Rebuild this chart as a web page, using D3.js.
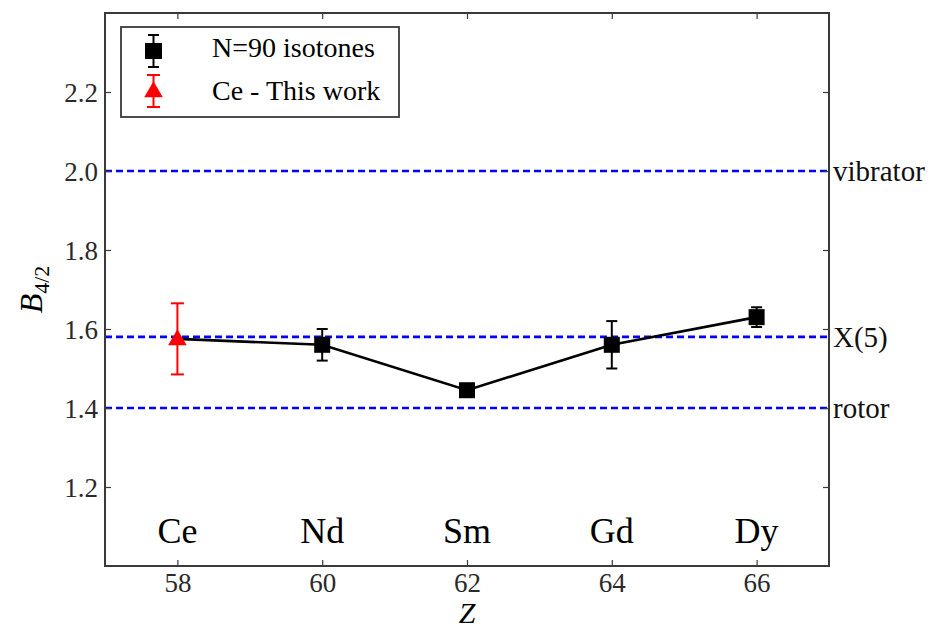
<!DOCTYPE html>
<html>
<head>
<meta charset="utf-8">
<script src="https://d3js.org/d3.v7.min.js"></script>
<style>
  html, body { margin: 0; padding: 0; background: #fff; }
  svg { display: block; }
  text { font-family: "Liberation Serif", "DejaVu Serif", serif; }
</style>
</head>
<body>
<svg id="chart" width="938" height="630"></svg>
<script>
// N=90 isotones: proton number, element, B(4/2) ratio and its uncertainty
const zValues   = [58, 60, 62, 64, 66];
const elements  = ["Ce", "Nd", "Sm", "Gd", "Dy"];
const b42       = [1.575, 1.56, 1.445, 1.56, 1.63];
const b42Err    = [0.0, 0.04, 0.01, 0.06, 0.025];

// Ce measurement (this work)
const ceZ   = [58];
const ceB   = [1.575];
const ceErr = [0.09];

// Reference limits drawn as horizontal dashed lines
const limitNames  = ["vibrator", "X(5)", "rotor"];
const limitValues = [2.0, 1.58, 1.40];

const xTicks = [58, 60, 62, 64, 66];
const yTicks = [1.2, 1.4, 1.6, 1.8, 2.0, 2.2];

const svg = d3.select("#chart");
const L = 105, R = 829, T = 13, B = 566;

const x = d3.scaleLinear().domain([57, 67]).range([L, R]);
const y = d3.scaleLinear().domain([1.0, 2.4]).range([B, T]);

const axisColor = "#3a3a3a";
const tickLen = 6;

// reference lines
const limits = limitNames.map((n, i) => ({ name: n, v: limitValues[i] }));
svg.selectAll("line.limit").data(limits).enter().append("line")
  .attr("class", "limit")
  .attr("x1", L).attr("x2", R)
  .attr("y1", d => y(d.v)).attr("y2", d => y(d.v))
  .attr("stroke", "#0000ff").attr("stroke-width", 2.6)
  .attr("stroke-dasharray", "7,4");
svg.selectAll("text.limit").data(limits).enter().append("text")
  .attr("class", "limit")
  .attr("x", R + 4).attr("y", d => y(d.v) + 10)
  .attr("font-size", 29).attr("fill", "#111")
  .text(d => d.name);

// connecting line through the isotone series
const pts = zValues.map((z, i) => ({ z, el: elements[i], v: b42[i], e: b42Err[i] }));
const line = d3.line().x(d => x(d.z)).y(d => y(d.v));
svg.append("path").datum(pts)
  .attr("d", line).attr("fill", "none")
  .attr("stroke", "#000").attr("stroke-width", 2.6);

// error bars
function errorBars(sel, data, color, cap) {
  const g = sel.selectAll(null).data(data.filter(d => d.e > 0)).enter().append("g");
  g.append("line")
    .attr("x1", d => x(d.z)).attr("x2", d => x(d.z))
    .attr("y1", d => y(d.v + d.e)).attr("y2", d => y(d.v - d.e))
    .attr("stroke", color).attr("stroke-width", 2);
  [1, -1].forEach(s => {
    g.append("line")
      .attr("x1", d => x(d.z) - cap).attr("x2", d => x(d.z) + cap)
      .attr("y1", d => y(d.v + s * d.e)).attr("y2", d => y(d.v + s * d.e))
      .attr("stroke", color).attr("stroke-width", 2);
  });
}
errorBars(svg, pts.slice(1), "#000", 5.5);

// square markers (the Ce point sits beneath the red triangle)
const sq = 16;
svg.selectAll("rect.pt").data(pts.slice(1)).enter().append("rect")
  .attr("class", "pt")
  .attr("x", d => x(d.z) - sq / 2).attr("y", d => y(d.v) - sq / 2)
  .attr("width", sq).attr("height", sq).attr("fill", "#000");

// Ce measurement: red triangle with error bar
const ce = ceZ.map((z, i) => ({ z, v: ceB[i], e: ceErr[i] }));
errorBars(svg, ce, "#ff0000", 6.5);
const tri = d3.symbol().type(d3.symbolTriangle).size(150);
svg.selectAll("path.ce").data(ce).enter().append("path")
  .attr("class", "ce")
  .attr("d", tri)
  .attr("transform", d => `translate(${x(d.z)},${y(d.v) + 1})`)
  .attr("fill", "#ff0000");

// element names inside the plot
svg.selectAll("text.el").data(pts).enter().append("text")
  .attr("class", "el")
  .attr("x", d => x(d.z)).attr("y", 543)
  .attr("text-anchor", "middle").attr("font-size", 36).attr("fill", "#000")
  .text(d => d.el);

// axes with inward ticks on all four sides
const fmtY = d3.format(".1f");
const axB = svg.append("g").attr("transform", `translate(0,${B})`)
  .call(d3.axisBottom(x).tickValues(xTicks).tickSize(-tickLen).tickPadding(6).tickFormat(d3.format("d")));
const axT = svg.append("g").attr("transform", `translate(0,${T})`)
  .call(d3.axisTop(x).tickValues(xTicks).tickSize(-tickLen).tickFormat(""));
const axL = svg.append("g").attr("transform", `translate(${L},0)`)
  .call(d3.axisLeft(y).tickValues(yTicks).tickSize(-tickLen).tickPadding(7).tickFormat(fmtY));
const axR = svg.append("g").attr("transform", `translate(${R},0)`)
  .call(d3.axisRight(y).tickValues(yTicks).tickSize(-tickLen).tickFormat(""));
[axB, axT, axL, axR].forEach(a => {
  a.attr("font-family", null).attr("font-size", null);
  a.select(".domain").remove();
  a.selectAll(".tick line").attr("stroke", axisColor).attr("stroke-width", 1.2);
  a.selectAll(".tick text")
    .style("font-family", "'Liberation Serif', serif")
    .style("font-size", "27px").attr("fill", "#2a2a2a");
});
axB.selectAll(".tick text").attr("dy", "0.75em");
axL.selectAll(".tick text").attr("dy", "0.35em");

svg.append("rect")
  .attr("x", L).attr("y", T).attr("width", R - L).attr("height", B - T)
  .attr("fill", "none").attr("stroke", axisColor).attr("stroke-width", 2);

// axis titles
svg.append("text")
  .attr("x", (L + R) / 2).attr("y", 623)
  .attr("text-anchor", "middle").attr("font-size", 30).attr("font-style", "italic")
  .text("Z");
const yl = svg.append("text")
  .attr("transform", `translate(42,${(T + B) / 2}) rotate(-90)`)
  .attr("text-anchor", "middle").attr("font-size", 32);
yl.append("tspan").attr("font-style", "italic").text("B");
yl.append("tspan").attr("font-size", 22).attr("dy", 7).text("4/2");

// legend
const lg = svg.append("g");
lg.append("rect").attr("x", 121).attr("y", 27).attr("width", 278).attr("height", 90)
  .attr("fill", "#fff").attr("stroke", axisColor).attr("stroke-width", 1.8);
const lx = 153.5;
// square entry
lg.append("line").attr("x1", lx).attr("x2", lx).attr("y1", 35).attr("y2", 67).attr("stroke", "#000").attr("stroke-width", 2);
[35, 67].forEach(yy => lg.append("line").attr("x1", lx - 5.5).attr("x2", lx + 5.5).attr("y1", yy).attr("y2", yy).attr("stroke", "#000").attr("stroke-width", 2));
lg.append("rect").attr("x", lx - 8.5).attr("y", 43).attr("width", 17).attr("height", 16).attr("fill", "#000");
lg.append("text").attr("x", 212).attr("y", 57).attr("font-size", 28).text("N=90 isotones");
// triangle entry
lg.append("line").attr("x1", lx).attr("x2", lx).attr("y1", 75).attr("y2", 107).attr("stroke", "#ff0000").attr("stroke-width", 2);
[75, 107].forEach(yy => lg.append("line").attr("x1", lx - 6.5).attr("x2", lx + 6.5).attr("y1", yy).attr("y2", yy).attr("stroke", "#ff0000").attr("stroke-width", 2));
lg.append("path").attr("d", tri).attr("transform", `translate(${lx},92)`).attr("fill", "#ff0000");
lg.append("text").attr("x", 212).attr("y", 100).attr("font-size", 28).text("Ce - This work");
</script>
</body>
</html>
